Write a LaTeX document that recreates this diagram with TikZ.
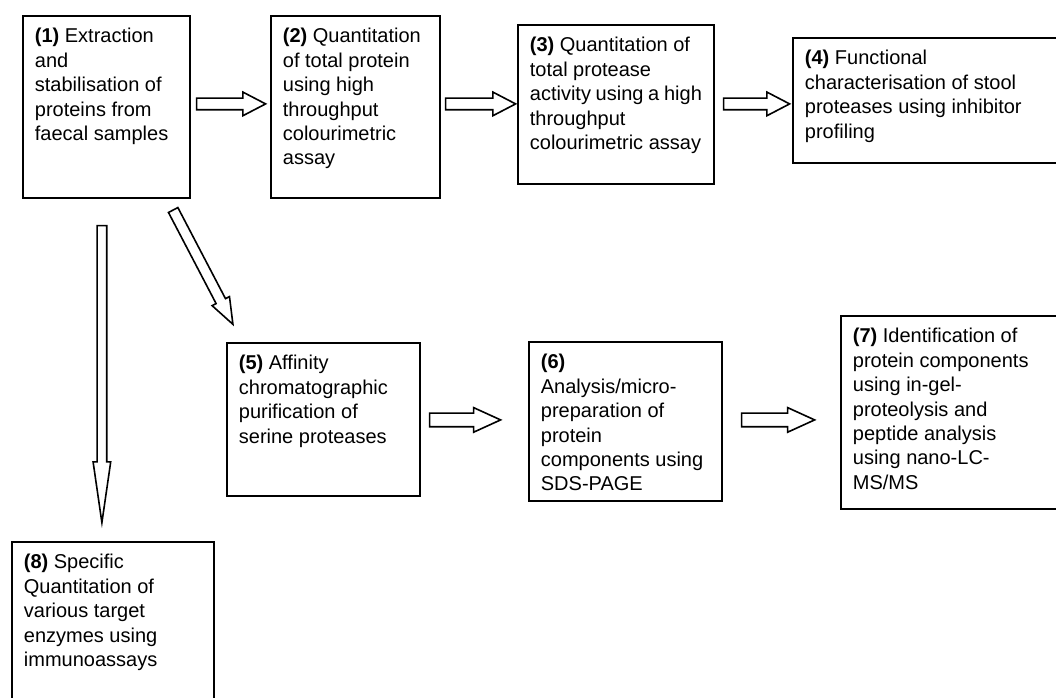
\documentclass[tikz,border=0pt]{standalone}
\usepackage{fontspec}
\setmainfont{Liberation Sans}
\usetikzlibrary{shapes.arrows, positioning, calc}
\newcommand{\boxtext}[3]{\parbox[t][#2][t]{#1}{\raggedright\rule{0pt}{15pt}#3}}
\tikzset{
  stepbox/.style = {draw, line width=1.8pt, fill=white, anchor=north west,
                    inner xsep=12pt, inner ysep=12pt,
                    font=\fontsize{20}{24.4}\selectfont},
  barrow/.style  = {single arrow, draw, line width=1.6pt, fill=white, anchor=tail,
                    inner xsep=0pt, inner ysep=5pt, single arrow head extend=6pt,
                    single arrow tip angle=55},
  larrow/.style  = {barrow, inner ysep=6pt, single arrow head extend=5.5pt,
                    single arrow tip angle=49},
}

\begin{document}
\begin{tikzpicture}[x=1pt, y=-1pt]
  \useasboundingbox (0,0) rectangle (1056,697);
  % top row
  \node[stepbox] (b1) at (22,15) {\boxtext{143pt}{158pt}{\textbf{(1)} Extraction\\ and\\ stabilisation of\\ proteins from\\ faecal samples}};
  \node[stepbox] (b2) at (270,15) {\boxtext{145pt}{158pt}{\textbf{(2)} Quantitation\\ of total protein\\ using high\\ throughput\\ colourimetric\\ assay}};
  \node[stepbox] (b3) at (517,24) {\boxtext{172pt}{135pt}{\textbf{(3)} Quantitation of\\ total protease\\ activity~using~a~high\\ throughput\\ colourimetric~assay}};
  \node[stepbox] (b4) at (792,37) {\boxtext{300pt}{101pt}{\textbf{(4)} Functional\\ characterisation of stool\\ proteases using inhibitor\\ profiling}};
  % middle row
  \node[stepbox] (b5) at (226,342) {\boxtext{169pt}{129pt}{\textbf{(5)} Affinity\\ chromatographic\\ purification of\\ serine proteases}};
  \node[stepbox] (b6) at (528,341) {\boxtext{169pt}{135pt}{\textbf{(6)}\\ Analysis/micro-\\ preparation of\\ protein\\ components~using\\ SDS-PAGE}};
  \node[stepbox] (b7) at (840,315) {\boxtext{260pt}{169pt}{\textbf{(7)} Identification of\\ protein components\\ using in-gel-\\ proteolysis and\\ peptide analysis\\ using nano-LC-\\ MS/MS}};
  % bottom
  \node[stepbox] (b8) at (11,541) {\boxtext{178pt}{140pt}{\textbf{(8)} Specific\\ Quantitation of\\ various target\\ enzymes using\\ immunoassays}};
  % block arrows
  \node[barrow, minimum height=69pt] (a12) at ([shift={(5,-3)}]b1.east) {};
  \node[barrow, minimum height=70pt] (a23) at ([shift={(4,-3)}]b2.east) {};
  \node[barrow, minimum height=66pt] (a34) at ([shift={(8,-0.5)}]b3.east) {};
  \node[larrow, minimum height=71pt] (a56) at ([shift={(8,0.5)}]b5.east) {};
  \node[larrow, minimum height=73pt] (a67) at ([shift={(18,-1.5)}]b6.east) {};
  \node[barrow, inner ysep=4pt, single arrow head extend=4pt, single arrow tip angle=16.5,
        minimum height=297pt, rotate=-90] (a18) at ([shift={(-4.5,26)}]b1.south) {};
  \node[barrow, inner ysep=4.5pt, single arrow head extend=4.5pt, single arrow tip angle=41,
        minimum height=129pt, rotate=-62.4] (a15) at ([shift={(-18,10.5)}]b1.south east) {};
\end{tikzpicture}
\end{document}
